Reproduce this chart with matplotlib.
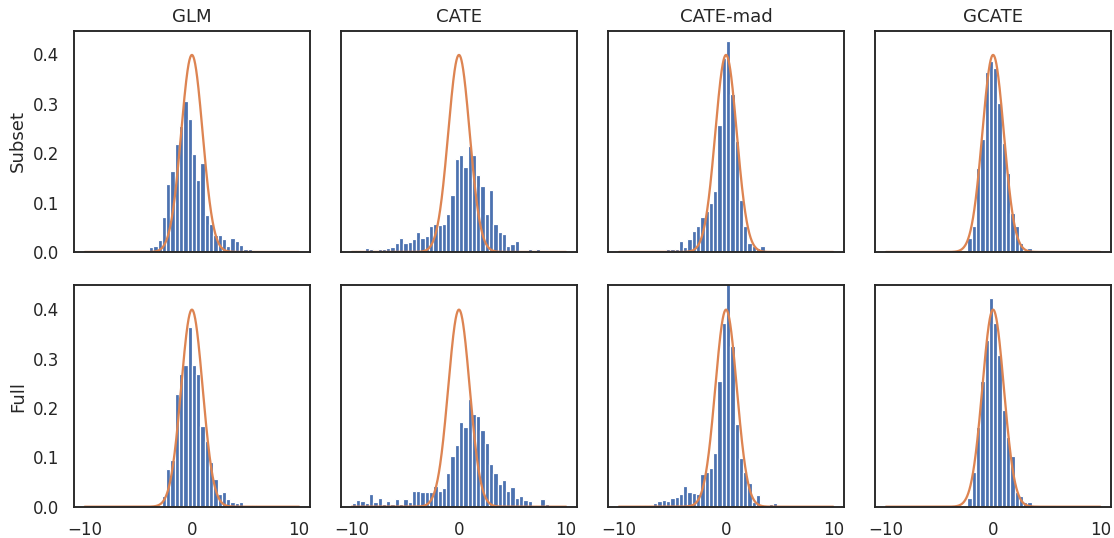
import numpy as np
import matplotlib
matplotlib.use("Agg")
import matplotlib.pyplot as plt
import seaborn as sns

sns.set_theme(style="white")

methods = ["GLM", "CATE", "CATE-mad", "GCATE"]
rows = ["Subset", "Full"]

# histogram bins: 50 bins of width 0.4 on [-10, 10]
bin_edges = np.linspace(-10, 10, 51)
bin_centers = (bin_edges[:-1] + bin_edges[1:]) / 2

# density of each bin, one list per panel (left to right, top then bottom)
glm_subset = [0, 0, 0, 0, 0, 0, 0, 0, 0, 0,
              0, 0, 0, 0.003, 0, 0.010, 0.013, 0.024, 0.070, 0.138,
              0.164, 0.218, 0.255, 0.306, 0.269, 0.198, 0.145, 0.181, 0.075, 0.056,
              0.035, 0.035, 0.026, 0.012, 0.029, 0.022, 0.015, 0.006, 0.006, 0,
              0, 0.002, 0.002, 0, 0.005, 0, 0, 0, 0, 0]
cate_subset = [0.003, 0.005, 0, 0.008, 0.007, 0.005, 0.007, 0.007, 0.009, 0.010,
               0.018, 0.029, 0.019, 0.020, 0.026, 0.041, 0.029, 0.032, 0.053, 0.056,
               0.055, 0.056, 0.076, 0.115, 0.188, 0.196, 0.172, 0.214, 0.196, 0.156,
               0.133, 0.076, 0.125, 0.057, 0.041, 0.037, 0.012, 0.016, 0.023, 0.002,
               0.003, 0.006, 0.004, 0.006, 0.002, 0, 0, 0, 0, 0]
camad_subset = [0, 0, 0, 0, 0, 0, 0, 0, 0, 0,
                0.002, 0.006, 0.006, 0.006, 0.022, 0.010, 0.026, 0.042, 0.052, 0.070,
                0.082, 0.099, 0.124, 0.257, 0.392, 0.427, 0.320, 0.224, 0.106, 0.052,
                0.018, 0.012, 0.009, 0.012, 0.002, 0, 0, 0, 0, 0.004,
                0, 0, 0, 0, 0.001, 0, 0, 0, 0, 0]
gcate_subset = [0, 0, 0, 0, 0, 0, 0, 0, 0, 0,
                0, 0, 0, 0, 0, 0, 0, 0, 0, 0.029,
                0.052, 0.170, 0.229, 0.365, 0.386, 0.372, 0.302, 0.220, 0.160, 0.079,
                0.052, 0.018, 0, 0.008, 0, 0, 0, 0, 0, 0,
                0, 0, 0, 0, 0, 0, 0, 0, 0, 0]
glm_full = [0, 0, 0, 0, 0, 0, 0, 0, 0, 0,
            0, 0, 0, 0, 0, 0, 0, 0, 0.022, 0.076,
            0.095, 0.228, 0.269, 0.286, 0.364, 0.287, 0.268, 0.164, 0.134, 0.091,
            0.056, 0.026, 0.030, 0.016, 0.009, 0.008, 0.009, 0, 0, 0.003,
            0, 0, 0, 0, 0, 0, 0, 0, 0, 0]
cate_full = [0.007, 0.014, 0.011, 0.007, 0.025, 0.009, 0.018, 0.005, 0.011, 0.005,
             0.016, 0.005, 0.016, 0.009, 0.032, 0.032, 0.029, 0.030, 0.030, 0.041,
             0.032, 0.037, 0.069, 0.103, 0.124, 0.171, 0.162, 0.218, 0.187, 0.183,
             0.156, 0.128, 0.086, 0.068, 0.046, 0.054, 0.032, 0.039, 0.018, 0.022,
             0.014, 0.011, 0.003, 0.003, 0.016, 0.005, 0, 0, 0, 0]
camad_full = [0, 0, 0, 0, 0, 0.003, 0.003, 0.003, 0.007, 0.011,
              0.014, 0.011, 0.018, 0.020, 0.026, 0.042, 0.029, 0.027, 0.026, 0.066,
              0.070, 0.078, 0.108, 0.254, 0.371, 0.460, 0.325, 0.168, 0.099, 0.071,
              0.047, 0.010, 0.024, 0.003, 0.003, 0.005, 0.008, 0, 0, 0,
              0, 0, 0, 0, 0, 0, 0, 0, 0, 0]
gcate_full = [0, 0, 0, 0, 0, 0, 0, 0, 0, 0,
              0, 0, 0, 0, 0, 0, 0, 0, 0, 0.018,
              0.071, 0.162, 0.254, 0.337, 0.423, 0.372, 0.308, 0.195, 0.141, 0.103,
              0.030, 0.022, 0.009, 0.009, 0, 0, 0, 0, 0, 0,
              0, 0, 0, 0, 0, 0, 0, 0, 0, 0]

densities = [[glm_subset, cate_subset, camad_subset, gcate_subset],
             [glm_full, cate_full, camad_full, gcate_full]]

# reference N(0, 1) density
mu, sigma = 0.0, 1.0
xs = np.linspace(-10, 10, 1000)
pdf = np.exp(-0.5 * ((xs - mu) / sigma) ** 2) / (sigma * np.sqrt(2 * np.pi))

dpi = 109
fig, axes = plt.subplots(2, 4, figsize=(1114 / dpi, 538 / dpi), dpi=dpi,
                         sharex=True, sharey=True)
fig.subplots_adjust(left=74 / 1114, right=1111 / 1114, top=1 - 30.7 / 538,
                    bottom=1 - 506.7 / 538, wspace=0.1326, hspace=0.151)

for i in range(2):
    for j in range(4):
        ax = axes[i, j]
        ax.hist(bin_centers, bins=bin_edges, weights=densities[i][j],
                color="C0", edgecolor="white", linewidth=0.8)
        ax.plot(xs, pdf, color="C1", linewidth=1.5)
        if i == 0:
            ax.set_title(methods[j])
        if j == 0:
            ax.set_ylabel(rows[i])

axes[0, 0].set_xlim(-11, 11)
axes[0, 0].set_ylim(0, 0.448)
axes[0, 0].set_xticks([-10, 0, 10])
axes[0, 0].set_yticks([0.0, 0.1, 0.2, 0.3, 0.4])

fig.savefig("out.png", dpi=dpi)
